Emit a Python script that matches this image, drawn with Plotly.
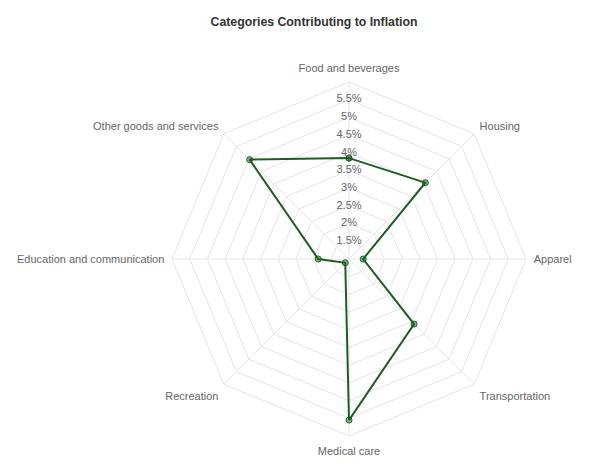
import plotly.graph_objects as go

categories = ["Food and beverages", "Housing", "Apparel", "Transportation",
              "Medical care", "Recreation", "Education and communication",
              "Other goods and services"]
values = [3.85, 4.05, 1.4, 3.6, 5.55, 1.15, 1.87, 4.97]
tick_values = [1.5, 2, 2.5, 3, 3.5, 4, 4.5, 5, 5.5]
tick_labels = ["1.5%", "2%", "2.5%", "3%", "3.5%", "4%", "4.5%", "5%", "5.5%"]
r_range = [1, 6]
grid_step = 0.5

green = "#1b5e20"
R = 177
CX, CY = 341, 251

fig = go.Figure()
fig.add_trace(go.Scatterpolar(
    r=values + values[:1],
    theta=categories + categories[:1],
    mode="lines+markers",
    line=dict(color=green, width=2),
    marker=dict(size=6, color="rgba(27,94,32,0.45)", line=dict(color=green, width=1)),
    hoverinfo="skip",
    showlegend=False,
))
fig.add_trace(go.Scatterpolar(
    r=tick_values,
    theta=[categories[0]] * len(tick_values),
    mode="text",
    text=tick_labels,
    textposition="middle center",
    textfont=dict(family="Liberation Sans, Arial, sans-serif", size=11, color="#666"),
    hoverinfo="skip",
    showlegend=False,
))

fig.update_layout(
    width=600, height=476,
    paper_bgcolor="white",
    margin=dict(l=0, r=0, t=CY - R, b=476 - (CY + R)),
    font=dict(family="Liberation Sans, Arial, sans-serif", color="#666"),
    title=dict(text="<b>Categories Contributing to Inflation</b>", x=306 / 600, xanchor="center",
               y=1 - 14 / 476, yanchor="middle",
               font=dict(size=12.3, color="#333")),
    polar=dict(
        domain=dict(x=[(CX - R) / 600, (CX + R) / 600], y=[0, 1]),
        gridshape="linear",
        bgcolor="white",
        radialaxis=dict(range=r_range, dtick=grid_step, tick0=1, showticklabels=False,
                        ticks="", showline=False, gridcolor="#e6e6e6", gridwidth=1),
        angularaxis=dict(rotation=90, direction="clockwise", gridcolor="#e6e6e6",
                         linecolor="#e6e6e6", ticks="outside", ticklen=5,
                         tickcolor="rgba(0,0,0,0)",
                         tickfont=dict(size=11, color="#666")),
    ),
)

fig.write_html("out.html")
